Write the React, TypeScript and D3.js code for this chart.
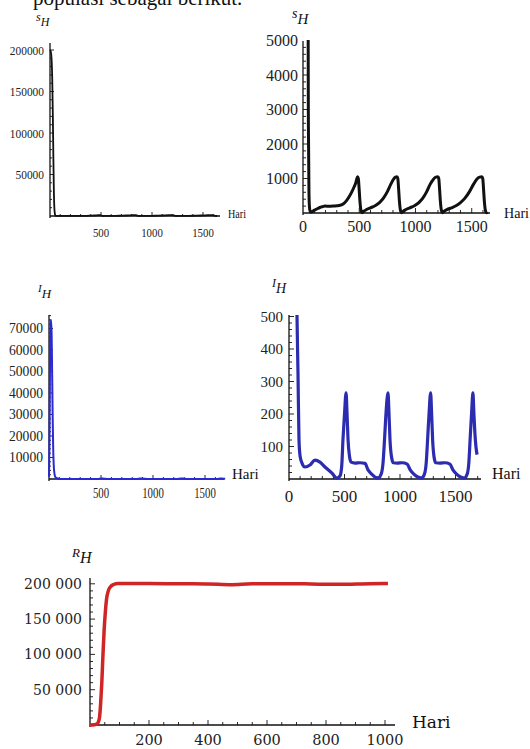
import React from "react";
import * as d3 from "d3";

const titleText = "populasi sebagai berikut.";
const xAxisTitle = "Hari";

// S_H (susceptible humans) — days and values
const sDays = [0, 8, 15, 22, 28, 33, 38, 43, 48, 53, 58, 65, 75, 90, 107, 130, 150, 169, 196, 230, 267, 300, 330, 360, 385, 410, 435, 455, 470, 478, 485, 492, 499, 506, 513, 520, 526,
  540, 565, 600, 640, 680, 715, 750, 780, 805, 822, 836, 843, 850, 857, 864, 871, 877,
  890, 915, 950, 990, 1030, 1065, 1100, 1130, 1160, 1180, 1200, 1207, 1214, 1221, 1228, 1235, 1241,
  1255, 1280, 1320, 1360, 1400, 1440, 1480, 1515, 1545, 1570, 1591, 1598, 1605, 1612, 1619, 1626, 1632, 1640];
const sValues = [200000, 198000, 190000, 165000, 120000, 70000, 30000, 9000, 2500, 600, 150, 40, 30, 60, 90, 130, 160, 180, 200, 195, 200, 210, 225, 270, 350, 470, 620, 760, 880, 990, 1050, 1000, 700, 350, 120, 30, 8,
  50, 100, 150, 210, 300, 430, 620, 830, 980, 1040, 1050, 1000, 700, 350, 120, 30, 8,
  50, 100, 150, 210, 300, 430, 620, 830, 980, 1040, 1050, 1000, 700, 350, 120, 30, 8,
  50, 100, 150, 210, 300, 430, 620, 830, 980, 1040, 1050, 1000, 700, 350, 120, 30, 8, 30];

// I_H (infected humans)
const iDays = [0, 5, 10, 15, 20, 25, 30, 35, 40, 45, 50, 55, 60, 66, 72, 81, 90, 100, 117, 144, 189, 234, 279, 324, 387, 432, 459, 475, 486, 500, 514, 523, 532, 545, 559, 595, 640, 685, 712, 745, 775, 802,
  830, 847, 862, 874, 892, 901, 910, 925, 940, 975, 1020, 1065, 1092, 1125, 1160, 1195,
  1220, 1236, 1250, 1262, 1276, 1285, 1294, 1308, 1322, 1360, 1405, 1450, 1477, 1510, 1545, 1578,
  1605, 1620, 1633, 1645, 1657, 1666, 1675, 1684, 1694];
const iValues = [1000, 20000, 55000, 72000, 74000, 68000, 50000, 30000, 15000, 7000, 3500, 1800, 1000, 700, 505, 326, 120, 70, 49, 37, 43, 58, 52, 37, 18, 3, 9, 40, 120, 200, 265, 200, 120, 70, 52, 49, 50, 48, 28, 15, 6, 3,
  15, 49, 130, 203, 265, 200, 120, 65, 50, 49, 50, 46, 28, 15, 6, 3,
  15, 49, 130, 203, 265, 200, 120, 65, 50, 49, 50, 46, 28, 15, 6, 3,
  15, 49, 130, 203, 265, 200, 140, 100, 75];

// R_H (recovered humans)
const rDays = [0, 15, 25, 32, 36, 40, 44, 48, 52, 56, 62, 70, 80, 95, 200, 300, 400, 475, 550, 650, 750, 850, 950, 1010];
const rValues = [0, 300, 2000, 10000, 30000, 60000, 100000, 135000, 160000, 178000, 190000, 196000, 199000, 200500, 200500, 200000, 199800, 198800, 200000, 200200, 199800, 199200, 200200, 200300];

const p1YTicks = [50000, 100000, 150000, 200000];
const p1YLabels = ["50000", "100000", "150000", "200000"];
const p1XTicks = [500, 1000, 1500];
const p1XLabels = ["500", "1000", "1500"];

const p2YTicks = [1000, 2000, 3000, 4000, 5000];
const p2YLabels = ["1000", "2000", "3000", "4000", "5000"];
const p2XTicks = [0, 500, 1000, 1500];
const p2XLabels = ["0", "500", "1000", "1500"];

const p3YTicks = [10000, 20000, 30000, 40000, 50000, 60000, 70000];
const p3YLabels = ["10000", "20000", "30000", "40000", "50000", "60000", "70000"];
const p3XTicks = [500, 1000, 1500];
const p3XLabels = ["500", "1000", "1500"];

const p4YTicks = [100, 200, 300, 400, 500];
const p4YLabels = ["100", "200", "300", "400", "500"];
const p4XTicks = [0, 500, 1000, 1500];
const p4XLabels = ["0", "500", "1000", "1500"];

const p5YTicks = [50000, 100000, 150000, 200000];
const p5YLabels = ["50 000", "100 000", "150 000", "200 000"];
const p5XTicks = [200, 400, 600, 800, 1000];
const p5XLabels = ["200", "400", "600", "800", "1000"];

const SERIF = "'Liberation Serif', 'Times New Roman', Times, serif";
const WIDE_SERIF = "'DejaVu Serif', serif";

type PanelProps = {
  id: string;
  days: number[];
  values: number[];
  xDomain: [number, number];
  xRange: [number, number];
  yDomain: [number, number];
  yRange: [number, number];
  axisTop: number;
  axisRight: number;
  clipTop: number;
  color: string;
  strokeWidth: number;
  xTicks: number[];
  xLabels: string[];
  xMinor: number;
  yTicks: number[];
  yLabels: string[];
  yMinor: number;
  font: string;
  yLabelX: number;
  yFont: number;
  yCharW?: number;
  xLabelY: number;
  xFont: number;
  xCharW?: number;
  hariX: number;
  hariY: number;
  hariFont: number;
  hariW?: number;
  symbol: string;
  symX: number;
  symY: number;
  symFont: number;
  subFont: number;
  subDy: number;
  tickMajor: number;
  tickMinor: number;
};

function Panel(p: PanelProps) {
  const x = d3.scaleLinear().domain(p.xDomain).range(p.xRange);
  const y = d3.scaleLinear().domain(p.yDomain).range(p.yRange);
  const pts = p.days.map((d, i) => [d, p.values[i]] as [number, number]);
  const line = d3
    .line<[number, number]>()
    .x((d) => x(d[0]))
    .y((d) => y(d[1]))
    .curve(d3.curveMonotoneX);
  const x0 = x(0);
  const y0 = y(0);
  const yMax = y.invert(p.axisTop);
  const xMax = x.invert(p.axisRight);
  const xMinorTicks = d3.range(0, xMax, p.xMinor).filter((v) => v > 0);
  const yMinorTicks = d3.range(0, yMax, p.yMinor).filter((v) => v > 0);
  const len = (s: string, w?: number) => (w ? { textLength: s.length * w, lengthAdjust: "spacingAndGlyphs" as const } : {});
  return (
    <g>
      <defs>
        <clipPath id={p.id}>
          <rect x={x0 - 2} y={p.clipTop} width={p.axisRight - x0 + 10} height={y0 - p.clipTop + 4} />
        </clipPath>
      </defs>
      <line x1={x0} x2={p.axisRight} y1={y0} y2={y0} stroke="#111" strokeWidth={1.3} />
      <line x1={x0} x2={x0} y1={y0 + 2} y2={p.axisTop} stroke="#111" strokeWidth={1.3} />
      {xMinorTicks.map((v) => (
        <line key={"xm" + v} x1={x(v)} x2={x(v)} y1={y0} y2={y0 - (p.xTicks.includes(v) ? p.tickMajor : p.tickMinor)} stroke="#111" strokeWidth={0.9} />
      ))}
      {yMinorTicks.map((v) => (
        <line key={"ym" + v} x1={x0} x2={x0 + (p.yTicks.includes(v) ? p.tickMajor : p.tickMinor)} y1={y(v)} y2={y(v)} stroke="#111" strokeWidth={0.9} />
      ))}
      <path d={line(pts) || ""} fill="none" stroke={p.color} strokeWidth={p.strokeWidth} strokeLinejoin="round" clipPath={`url(#${p.id})`} />
      {p.yTicks.map((v, i) => (
        <text key={"yl" + v} x={p.yLabelX} y={y(v)} textAnchor="end" dominantBaseline="central" fontFamily={p.font} fontSize={p.yFont} fill="#222" {...len(p.yLabels[i], p.yCharW)}>
          {p.yLabels[i]}
        </text>
      ))}
      {p.xTicks.map((v, i) => (
        <text key={"xl" + v} x={x(v)} y={p.xLabelY} textAnchor="middle" dominantBaseline="central" fontFamily={p.font} fontSize={p.xFont} fill="#222" {...len(p.xLabels[i], p.xCharW)}>
          {p.xLabels[i]}
        </text>
      ))}
      <text x={p.hariX} y={p.hariY} dominantBaseline="central" fontFamily={p.font} fontSize={p.hariFont} fill="#111" {...(p.hariW ? { textLength: p.hariW, lengthAdjust: "spacingAndGlyphs" as const } : {})}>
        {xAxisTitle}
      </text>
      <text x={p.symX} y={p.symY} fontFamily={SERIF} fontStyle="italic" fill="#111">
        <tspan fontSize={p.symFont}>{p.symbol}</tspan>
        <tspan fontSize={p.subFont} dy={p.subDy}>H</tspan>
      </text>
    </g>
  );
}

export default function App() {
  return (
    <svg width={530} height={749} style={{ position: "absolute", left: 0, top: 0, background: "#fff" }}>
      <text x={33} y={5} fontFamily={SERIF} fontSize={21} fill="#111">
        {titleText}
      </text>
      <Panel
        id="c1" days={sDays} values={sValues}
        xDomain={[0, 1650]} xRange={[50, 218.3]} yDomain={[0, 200000]} yRange={[216, 50]}
        axisTop={43} axisRight={220} clipTop={40} color="#111" strokeWidth={1.8}
        xTicks={p1XTicks} xLabels={p1XLabels} xMinor={100}
        yTicks={p1YTicks} yLabels={p1YLabels} yMinor={10000}
        font={SERIF} yLabelX={44} yFont={13} yCharW={5.7}
        xLabelY={232} xFont={13} xCharW={5.4}
        hariX={228} hariY={213} hariFont={13} hariW={18}
        symbol="s" symX={36} symY={21} symFont={12} subFont={12} subDy={5}
        tickMajor={4} tickMinor={2}
      />
      <Panel
        id="c2" days={sDays} values={sValues}
        xDomain={[0, 1650]} xRange={[303, 488.6]} yDomain={[0, 5000]} yRange={[213, 40.5]}
        axisTop={41} axisRight={490} clipTop={40} color="#111" strokeWidth={3}
        xTicks={p2XTicks} xLabels={p2XLabels} xMinor={100}
        yTicks={p2YTicks} yLabels={p2YLabels} yMinor={200}
        font={SERIF} yLabelX={298} yFont={16}
        xLabelY={226} xFont={16}
        hariX={504} hariY={213} hariFont={15} hariW={25}
        symbol="s" symX={292} symY={18} symFont={14} subFont={15} subDy={6}
        tickMajor={5} tickMinor={3}
      />
      <Panel
        id="c3" days={iDays} values={iValues}
        xDomain={[0, 1700]} xRange={[49, 225.8]} yDomain={[0, 70000]} yRange={[479, 328.5]}
        axisTop={315} axisRight={224} clipTop={312} color="#2a2ad0" strokeWidth={2}
        xTicks={p3XTicks} xLabels={p3XLabels} xMinor={100}
        yTicks={p3YTicks} yLabels={p3YLabels} yMinor={2000}
        font={SERIF} yLabelX={43} yFont={14} yCharW={6.8}
        xLabelY={493} xFont={14} xCharW={5.4}
        hariX={232} hariY={474} hariFont={15}
        symbol="I" symX={38} symY={292} symFont={11} subFont={13} subDy={6}
        tickMajor={4} tickMinor={2}
      />
      <Panel
        id="c4" days={iDays} values={iValues}
        xDomain={[0, 1700]} xRange={[289, 477.7]} yDomain={[0, 500]} yRange={[479, 316.5]}
        axisTop={315} axisRight={481} clipTop={315} color="#2c2cb0" strokeWidth={3.2}
        xTicks={p4XTicks} xLabels={p4XLabels} xMinor={100}
        yTicks={p4YTicks} yLabels={p4YLabels} yMinor={20}
        font={SERIF} yLabelX={283} yFont={15}
        xLabelY={496} xFont={17}
        hariX={492} hariY={473} hariFont={16}
        symbol="I" symX={272} symY={287} symFont={12} subFont={14} subDy={6}
        tickMajor={5} tickMinor={3}
      />
      <Panel
        id="c5" days={rDays} values={rValues}
        xDomain={[0, 1050]} xRange={[90, 399.75]} yDomain={[0, 200000]} yRange={[725, 583.8]}
        axisTop={578} axisRight={395} clipTop={570} color="#d02525" strokeWidth={3.5}
        xTicks={p5XTicks} xLabels={p5XLabels} xMinor={50}
        yTicks={p5YTicks} yLabels={p5YLabels} yMinor={10000}
        font={WIDE_SERIF} yLabelX={82} yFont={14}
        xLabelY={740} xFont={14.5}
        hariX={412} hariY={722} hariFont={17}
        symbol="R" symX={72} symY={557} symFont={13} subFont={16} subDy={6}
        tickMajor={5} tickMinor={3}
      />
    </svg>
  );
}
